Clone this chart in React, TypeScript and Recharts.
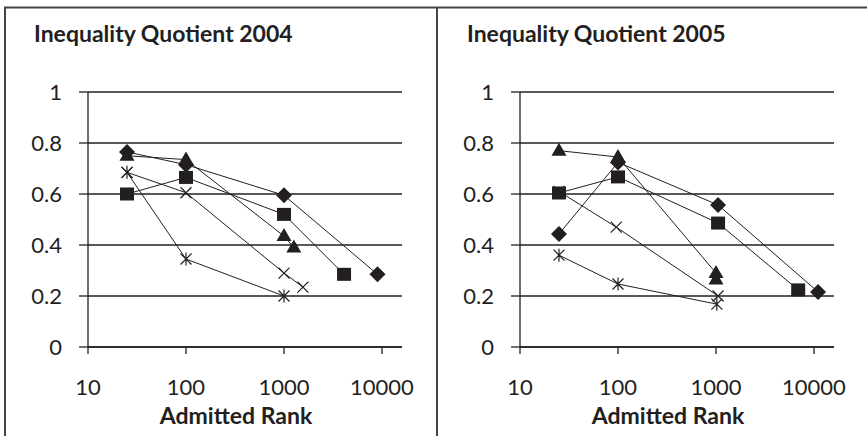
import React from 'react'
import { ScatterChart, Scatter, XAxis, YAxis, CartesianGrid } from 'recharts'

const INK = '#231f20'
const FONT = 'Lato, "Open Sans", sans-serif'

// Admitted rank (x) and inequality quotient (y)
const diamondRank2004 = [25, 100, 1000, 9000]
const diamondIQ2004 = [0.765, 0.715, 0.595, 0.285]
const squareRank2004 = [25, 100, 1000, 4100]
const squareIQ2004 = [0.6, 0.665, 0.52, 0.285]
const triangleRank2004 = [25, 100, 1000, 1260]
const triangleIQ2004 = [0.75, 0.735, 0.435, 0.39]
const crossRank2004 = [25, 100, 1000, 1560]
const crossIQ2004 = [0.685, 0.605, 0.29, 0.235]
const starRank2004 = [25, 100, 1000]
const starIQ2004 = [0.685, 0.345, 0.2]

const diamondRank2005 = [25, 100, 1050, 11000]
const diamondIQ2005 = [0.443, 0.724, 0.557, 0.216]
const squareRank2005 = [25, 100, 1050, 6900]
const squareIQ2005 = [0.604, 0.667, 0.486, 0.224]
const triangleRank2005 = [25, 100, 1000, 1000]
const triangleIQ2005 = [0.77, 0.745, 0.29, 0.265]
const crossRank2005 = [25, 96, 1050]
const crossIQ2005 = [0.61, 0.47, 0.2]
const starRank2005 = [25, 100, 1020]
const starIQ2005 = [0.36, 0.247, 0.168]

const xTicks = [10, 100, 1000, 10000]
const yTicks = [0, 0.2, 0.4, 0.6, 0.8, 1]

const toPoints = (xs: number[], ys: number[]) => xs.map((x, i) => ({ x, y: ys[i] }))

const Diamond = (p: any) => {
  const { cx, cy } = p
  const r = 8
  return <path d={`M${cx},${cy - r}L${cx + r},${cy}L${cx},${cy + r}L${cx - r},${cy}Z`} fill={INK} />
}
const Square = (p: any) => {
  const { cx, cy } = p
  return <rect x={cx - 7} y={cy - 6.5} width={14} height={13} fill={INK} />
}
const Triangle = (p: any) => {
  const { cx, cy } = p
  return <path d={`M${cx},${cy - 8}L${cx + 7.5},${cy + 5}L${cx - 7.5},${cy + 5}Z`} fill={INK} />
}
const Cross = (p: any) => {
  const { cx, cy } = p
  const r = 5.5
  return (
    <path
      d={`M${cx - r},${cy - r}L${cx + r},${cy + r}M${cx - r},${cy + r}L${cx + r},${cy - r}`}
      stroke={INK}
      strokeWidth={1.2}
    />
  )
}
const Star = (p: any) => {
  const { cx, cy } = p
  const r = 5.5
  return (
    <path
      d={`M${cx - r},${cy - r}L${cx + r},${cy + r}M${cx - r},${cy + r}L${cx + r},${cy - r}M${cx},${cy - r - 1}L${cx},${cy + r + 1}`}
      stroke={INK}
      strokeWidth={1.2}
    />
  )
}

type Series = { pts: { x: number; y: number }[]; shape: any }

function Panel({ left, series }: { left: number; series: Series[] }) {
  return (
    <div style={{ position: 'absolute', left, top: 0 }}>
      <ScatterChart width={422} height={436} margin={{ top: 92, right: 20, bottom: 0, left: 0 }}>
        <CartesianGrid horizontal vertical={false} stroke={INK} strokeWidth={1.3} />
        <XAxis
          dataKey="x"
          type="number"
          scale="log"
          domain={[10, 16000]}
          ticks={xTicks}
          allowDataOverflow
          height={89}
          axisLine={{ stroke: INK, strokeWidth: 1.3 }}
          tickLine={{ stroke: INK, strokeWidth: 1.3 }}
          tickSize={7}
          tickMargin={25}
          tick={{ fill: INK, fontSize: 22, fontFamily: FONT }}
        />
        <YAxis
          dataKey="y"
          type="number"
          domain={[0, 1]}
          ticks={yTicks}
          width={88}
          axisLine={{ stroke: INK, strokeWidth: 1.3 }}
          tickLine={{ stroke: INK, strokeWidth: 1.3 }}
          tickSize={9}
          tickMargin={17}
          tick={{ fill: INK, fontSize: 22, fontFamily: FONT }}
        />
        {series.map((s, i) => (
          <Scatter
            key={i}
            data={s.pts}
            shape={s.shape}
            line={{ stroke: INK, strokeWidth: 1 }}
            isAnimationActive={false}
          />
        ))}
      </ScatterChart>
    </div>
  )
}

export default function App() {
  const s2004: Series[] = [
    { pts: toPoints(starRank2004, starIQ2004), shape: Star },
    { pts: toPoints(crossRank2004, crossIQ2004), shape: Cross },
    { pts: toPoints(squareRank2004, squareIQ2004), shape: Square },
    { pts: toPoints(diamondRank2004, diamondIQ2004), shape: Diamond },
    { pts: toPoints(triangleRank2004, triangleIQ2004), shape: Triangle },
  ]
  const s2005: Series[] = [
    { pts: toPoints(starRank2005, starIQ2005), shape: Star },
    { pts: toPoints(crossRank2005, crossIQ2005), shape: Cross },
    { pts: toPoints(triangleRank2005, triangleIQ2005), shape: Triangle },
    { pts: toPoints(squareRank2005, squareIQ2005), shape: Square },
    { pts: toPoints(diamondRank2005, diamondIQ2005), shape: Diamond },
  ]
  return (
    <div style={{ position: 'absolute', left: 0, top: 0, width: 867, height: 436, background: '#fff', overflow: 'hidden' }}>
      <Panel left={0} series={s2004} />
      <Panel left={432} series={s2005} />
      <svg width={867} height={436} style={{ position: 'absolute', left: 0, top: 0, pointerEvents: 'none' }}>
        <path d="M5,436V7.5H867M437,7.5V436" fill="none" stroke="#444" strokeWidth={2} />
        <g fontFamily={FONT} fontWeight={700} fill={INK}>
          <text x={34} y={42} fontSize={23}>Inequality Quotient 2004</text>
          <text x={467} y={42} fontSize={23}>Inequality Quotient 2005</text>
          <text x={236} y={424} fontSize={23} textAnchor="middle">Admitted Rank</text>
          <text x={668} y={424} fontSize={23} textAnchor="middle">Admitted Rank</text>
        </g>
      </svg>
    </div>
  )
}
